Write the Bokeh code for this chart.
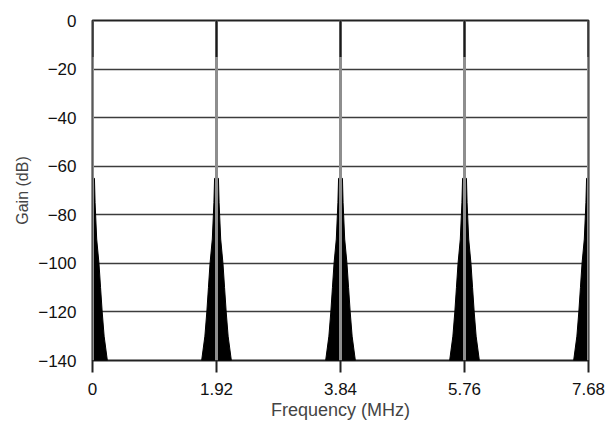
from bokeh.plotting import figure
from bokeh.models import FixedTicker, Range1d
from bokeh.embed import file_html
from bokeh.resources import INLINE

# Comb-filter magnitude response: image peaks every 1.92 MHz
peak_centers_mhz = [0.0, 1.92, 3.84, 5.76, 7.68]
peak_top_db = [0, 0, 0, 0, 0]

# Sidelobe envelope around each peak (gain vs. half-width from the centre)
lobe_gain_db = [-65, -75, -90, -100, -110, -120, -130, -140]
lobe_halfwidth_mhz = [0.03, 0.04, 0.065, 0.1, 0.125, 0.15, 0.18, 0.23]

# Darker tip of each spike
spike_dark_to_db = -15

x_ticks = [0, 1.92, 3.84, 5.76, 7.68]
x_tick_labels = ["0", "1.92", "3.84", "5.76", "7.68"]
y_ticks = [0, -20, -40, -60, -80, -100, -120, -140]
y_tick_labels = ["0", "\u221220", "\u221240", "\u221260", "\u221280",
                 "\u2212100", "\u2212120", "\u2212140"]

FONT = "Liberation Sans"

p = figure(width=606, height=427, output_backend="svg", toolbar_location=None,
           x_range=Range1d(0, 7.68), y_range=Range1d(-140, 0),
           min_border_left=92, min_border_right=18, min_border_top=20,
           min_border_bottom=67)

p.background_fill_color = "white"
p.border_fill_color = "white"
p.outline_line_color = "#222222"
p.outline_line_width = 2

# Filled sidelobe envelopes
xs, ys = [], []
for c in peak_centers_mhz:
    left_x = [c - w for w in reversed(lobe_halfwidth_mhz)]
    left_y = list(reversed(lobe_gain_db))
    right_x = [c + w for w in lobe_halfwidth_mhz]
    right_y = list(lobe_gain_db)
    xs.append(left_x + right_x)
    ys.append(left_y + right_y)
p.patches(xs, ys, fill_color="black", line_color="black", line_width=1)

# Main spikes
p.segment(x0=peak_centers_mhz, y0=[-140] * len(peak_centers_mhz),
          x1=peak_centers_mhz, y1=peak_top_db,
          line_color="#8e8e8e", line_width=3)
p.segment(x0=peak_centers_mhz, y0=[spike_dark_to_db] * len(peak_centers_mhz),
          x1=peak_centers_mhz, y1=peak_top_db,
          line_color="#1a1a1a", line_width=2)

# Axes
p.xaxis.ticker = FixedTicker(ticks=x_ticks)
p.xaxis.major_label_overrides = dict(zip(x_ticks, x_tick_labels))
p.yaxis.ticker = FixedTicker(ticks=y_ticks)
p.yaxis.major_label_overrides = dict(zip(y_ticks, y_tick_labels))

for ax in (p.xaxis[0], p.yaxis[0]):
    ax.axis_line_color = None
    ax.minor_tick_line_color = None
    ax.major_label_text_font = FONT
    ax.major_label_text_font_size = "17px"
    ax.major_label_text_color = "#111111"
    ax.axis_label_text_font = FONT
    ax.axis_label_text_font_style = "normal"
    ax.axis_label_text_color = "#444444"

p.xaxis.major_tick_line_color = "#222222"
p.xaxis.major_tick_line_width = 2
p.xaxis.major_tick_out = 12
p.xaxis.major_tick_in = 0
p.xaxis.major_label_standoff = 10
p.xaxis.axis_label = "Frequency (MHz)"
p.xaxis.axis_label_text_font_size = "18px"
p.xaxis.axis_label_standoff = 2

p.yaxis.major_tick_line_color = None
p.yaxis.major_tick_out = 0
p.yaxis.major_tick_in = 0
p.yaxis.major_label_standoff = 16
p.yaxis.axis_label = "Gain (dB)"
p.yaxis.axis_label_text_font_size = "16px"
p.yaxis.axis_label_standoff = 4

p.xgrid.grid_line_color = None
p.ygrid.grid_line_color = "#3c3c3c"
p.ygrid.grid_line_width = 1.5

open("out.html", "w").write(file_html(p, INLINE))
